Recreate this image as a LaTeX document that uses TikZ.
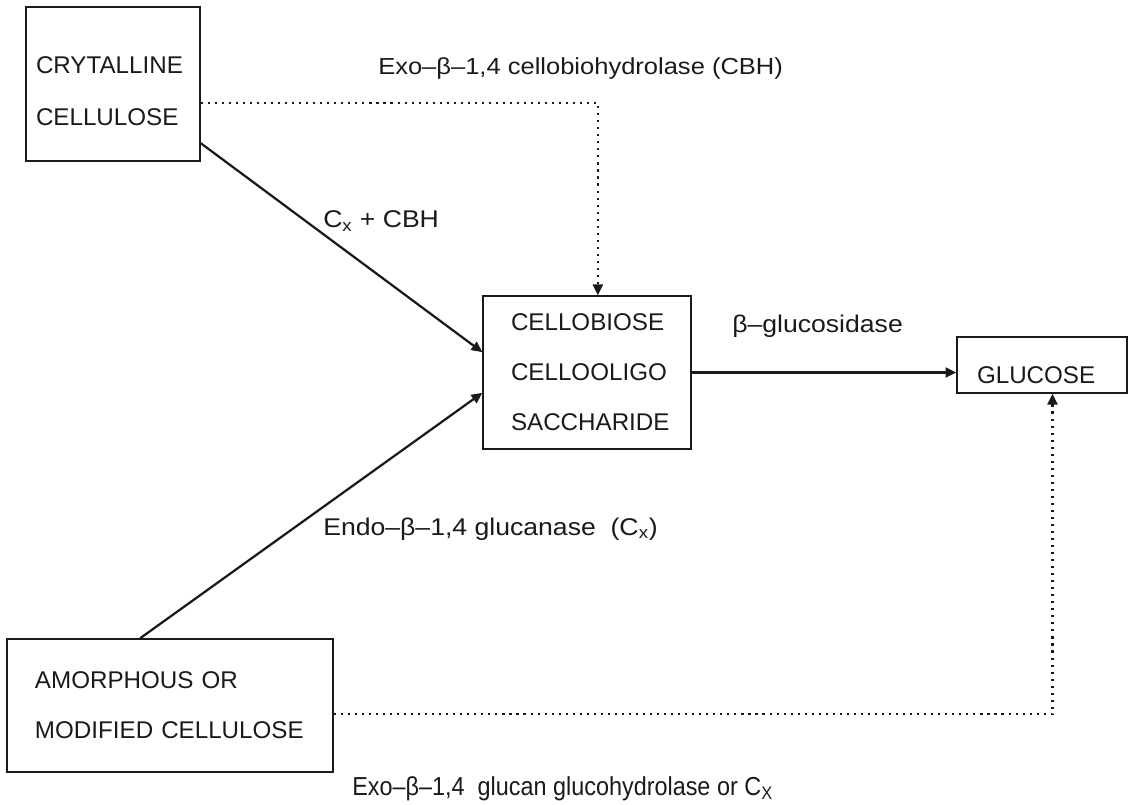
\documentclass[tikz,border=0pt]{standalone}
\usepackage{fontspec}
\setmainfont{Liberation Sans}
\newfontfamily\widefont[FakeStretch=1.1]{Liberation Sans}
\newfontfamily\narrowfont[FakeStretch=0.9]{Liberation Sans}
\usepackage{tikz}
\usetikzlibrary{arrows.meta}
\definecolor{ink}{HTML}{1A1A1A}
\tikzset{
  box/.style={draw=ink, line width=1pt, rectangle, align=left, text=ink, font=\fontsize{17.2}{35.6}\selectfont},
  flow/.style={draw=ink, line width=1.6pt, -{Triangle[length=0.27cm, width=0.25cm]}},
  dots/.style={draw=ink, line width=1.5pt, dash pattern=on 1.5pt off 3.5pt, -{Triangle[length=0.27cm, width=0.25cm]}},
  lbl/.style={text=ink, font=\widefont\fontsize{17.2}{20}\selectfont, anchor=base west, inner sep=0pt}
}

\begin{document}
\begin{tikzpicture}
    \useasboundingbox (0,0) rectangle (28.275,-20.125);

    % --- BOXES ---
    \node[box, font=\fontsize{17.2}{37}\selectfont, minimum width=4.35cm, inner xsep=0.25cm, inner ysep=0pt, text width=3.85cm, text height=1.665cm, text depth=2.185cm] (cryst) at (2.825,-2.1) {CRYTALLINE\\CELLULOSE};
    \node[box, minimum width=5.2cm, minimum height=3.825cm, inner xsep=0.7cm, text width=3.8cm] (cello) at (14.675,-9.3125) {CELLOBIOSE\\CELLOOLIGO\\SACCHARIDE};
    \node[box, minimum width=4.25cm, minimum height=1.4cm, inner xsep=0.5cm, inner ysep=0pt, text width=3.25cm, text height=1.15cm, text depth=0.225cm] (gluc) at (26.05,-9.125) {GLUCOSE};
    \node[box, minimum width=8.15cm, minimum height=3.325cm, inner xsep=0.7cm, text width=6.75cm] (amorph) at (4.25,-17.6375) {AMORPHOUS OR\\MODIFIED CELLULOSE};

    % --- ARROWS ---
    \draw[flow] (cryst.-34) -- (cello.169);
    \draw[flow] (amorph.114) -- (cello.191);
    \draw[flow] (cello.east) -- (cello.east -| gluc.west);
    \draw[dots] (cryst.-12) -| (cello.82.5);
    \draw[dots] (amorph.-3.7) -| (gluc.-70.3);

    % --- ENZYMES ---
    \node[lbl, font=\widefont\fontsize{16.5}{20}\selectfont] (cbh) at (9.45,-1.875) {Exo–β–1,4 cellobiohydrolase (CBH)};
    \node[lbl] (mix) at (8.075,-5.7) {C\textsubscript{x} + CBH};
    \node[lbl] (bgluc) at (18.3,-8.325) {β–glucosidase};
    \node[lbl] (endo) at (8.075,-13.375) {Endo–β–1,4 glucanase \ (C\textsubscript{x})};
    \node[lbl, font=\narrowfont\fontsize{18.5}{20}\selectfont] (glucan) at (8.8,-19.875) {Exo–β–1,4\ \ glucan glucohydrolase or C\textsubscript{X}};
\end{tikzpicture}
\end{document}
